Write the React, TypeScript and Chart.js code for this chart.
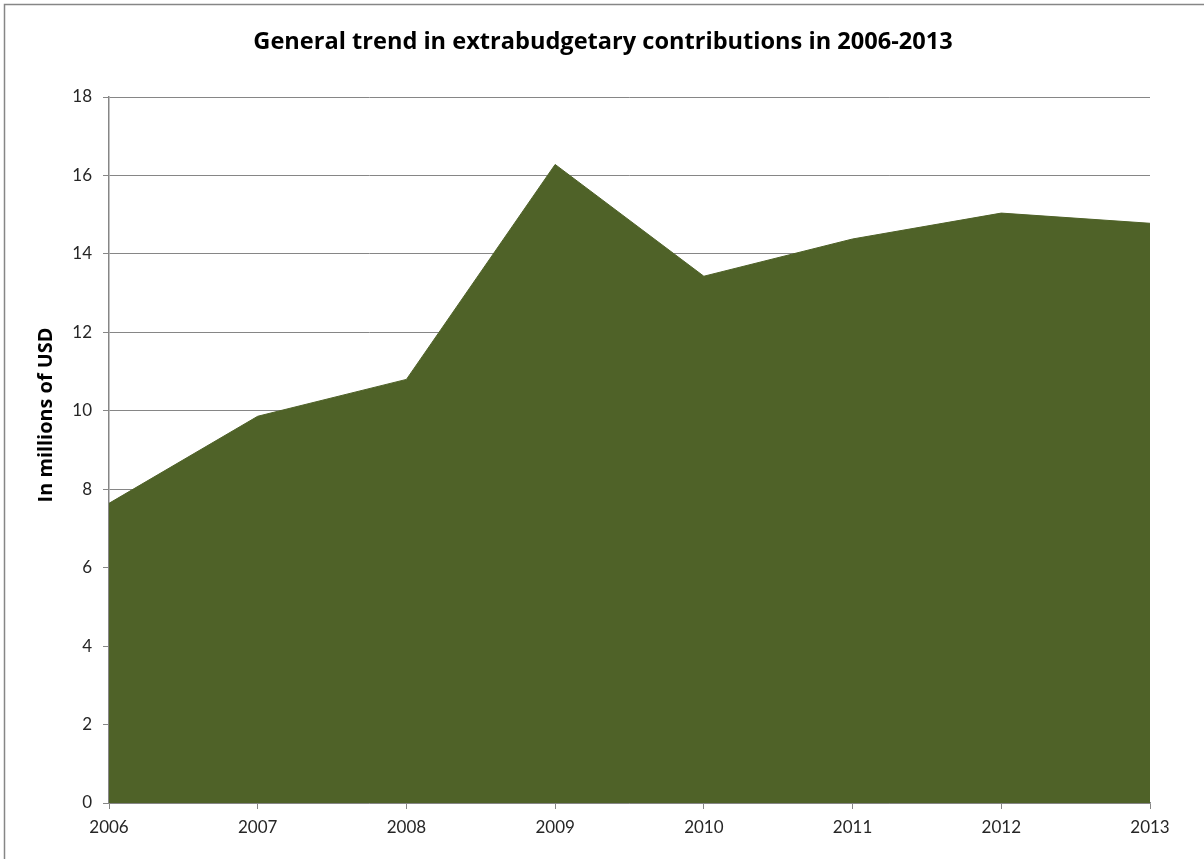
import React, { useEffect, useRef } from "react";
import { Chart, registerables } from "chart.js";

Chart.register(...registerables);

const years = ["2006", "2007", "2008", "2009", "2010", "2011", "2012", "2013"];
const contributions = [7.64, 9.86, 10.8, 16.28, 13.43, 14.38, 15.04, 14.78];
const chartTitle = "General trend in extrabudgetary contributions in 2006-2013";
const yAxisTitle = "In millions of USD";

const TITLE_FONT = "'Open Sans', sans-serif";
const TICK_FONT = "Lato, 'Open Sans', sans-serif";

function fitSize(ctx: CanvasRenderingContext2D, text: string, family: string, target: number) {
  ctx.font = `bold 20px ${family}`;
  const w = ctx.measureText(text).width;
  return (20 * target) / w;
}

const decorPlugin = {
  id: "decor",
  beforeDraw(chart: any) {
    const ctx = chart.ctx;
    ctx.save();
    ctx.fillStyle = "#ffffff";
    ctx.fillRect(0, 0, chart.width, chart.height);
    ctx.strokeStyle = "#868686";
    ctx.lineWidth = 1.5;
    ctx.strokeRect(4.5, 4.5, chart.width + 10, chart.height + 10);
    ctx.restore();
  },
  afterDraw(chart: any) {
    const ctx = chart.ctx;
    ctx.save();
    ctx.fillStyle = "#000000";
    ctx.textAlign = "center";
    ctx.textBaseline = "middle";
    const ts = fitSize(ctx, chartTitle, TITLE_FONT, 700);
    ctx.font = `bold ${ts}px ${TITLE_FONT}`;
    ctx.fillText(chartTitle, 603, 42);
    const ys = fitSize(ctx, yAxisTitle, TITLE_FONT, 175);
    ctx.translate(46, 415);
    ctx.rotate(-Math.PI / 2);
    ctx.font = `bold ${ys}px ${TITLE_FONT}`;
    ctx.fillText(yAxisTitle, 0, 0);
    ctx.restore();
  },
};

export default function App() {
  const ref = useRef<HTMLCanvasElement>(null);
  useEffect(() => {
    document.body.style.margin = "0";
    const chart = new Chart(ref.current!, {
      type: "line",
      data: {
        labels: years,
        datasets: [
          {
            data: contributions,
            fill: "origin",
            backgroundColor: "#4F6228",
            borderColor: "#4F6228",
            borderWidth: 1,
            pointRadius: 0,
            tension: 0,
          },
        ],
      },
      options: {
        animation: false,
        responsive: false,
        layout: { padding: { top: 97, right: 54, left: 0, bottom: 0 } },
        plugins: { legend: { display: false }, tooltip: { enabled: false } },
        scales: {
          x: {
            offset: false,
            grid: { drawOnChartArea: false, drawTicks: true, tickLength: 6, color: "#868686" },
            border: { display: true, color: "#868686", width: 1.5 },
            ticks: { color: "#262626", font: { family: TICK_FONT, size: 17 }, padding: 8, maxRotation: 0 },
            afterFit: (s: any) => { s.height = 56; },
          },
          y: {
            min: 0,
            max: 18,
            ticks: { stepSize: 2, color: "#262626", font: { family: TICK_FONT, size: 17 }, padding: 11 },
            grid: { color: "#868686", tickLength: 6, lineWidth: 1 },
            border: { display: true, color: "#868686", width: 1.5 },
            afterFit: (s: any) => { s.width = 109; },
          },
        },
      },
      plugins: [decorPlugin],
    });
    return () => chart.destroy();
  }, []);
  return <canvas ref={ref} width={1204} height={859} style={{ display: "block" }} />;
}
